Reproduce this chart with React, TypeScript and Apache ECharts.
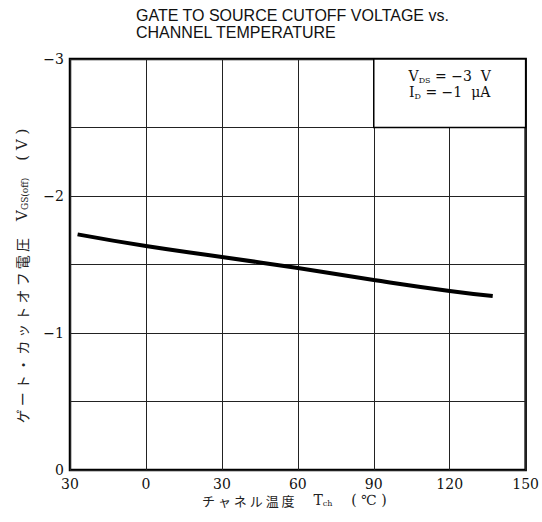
import React, { useEffect, useRef } from "react";
import * as echarts from "echarts";

const temperatures = [-27, 0, 30, 60, 90, 120, 137];
const cutoffVoltage = [-1.72, -1.635, -1.555, -1.474, -1.387, -1.307, -1.27];
const xTickLabels: Record<string, string> = { "-30": "30", "0": "0", "30": "30", "60": "60", "90": "90", "120": "120", "150": "150" };
const titleLines = ["GATE TO SOURCE CUTOFF VOLTAGE vs.", "CHANNEL TEMPERATURE"];
const conditionBox = { x0: 90, x1: 150, y0: -3, y1: -2.5 };

export default function App() {
  const ref = useRef<HTMLDivElement>(null);
  useEffect(() => {
    if (!ref.current) return;
    const chart = echarts.init(ref.current, null, { renderer: "svg" });
    const serif = "'DejaVu Serif', 'Liberation Serif', serif";
    const jp = "'Noto Sans CJK JP', sans-serif";
    chart.setOption({
      animation: false,
      backgroundColor: "#fff",
      title: {
        text: titleLines.join("\n"),
        left: 131,
        top: 2,
        textStyle: { fontFamily: "'Liberation Sans', Arial, sans-serif", fontSize: 16, fontWeight: "normal", color: "#111", lineHeight: 17 },
      },
      grid: { left: 70, right: 15, top: 59, bottom: 52, show: true, borderColor: "#000", borderWidth: 2.5, backgroundColor: "transparent" },
      xAxis: {
        type: "value",
        min: -30,
        max: 150,
        interval: 30,
        axisLine: { show: false },
        axisTick: { show: false },
        splitLine: { show: true, lineStyle: { color: "#222", width: 1 } },
        axisLabel: {
          margin: 7,
          fontFamily: serif,
          fontSize: 14,
          color: "#111",
          formatter: (v: number) => xTickLabels[String(v)] ?? String(v),
        },
      },
      yAxis: {
        type: "value",
        min: -3,
        max: 0,
        interval: 0.5,
        inverse: true,
        axisLine: { show: false },
        axisTick: { show: false },
        splitLine: { show: true, lineStyle: { color: "#222", width: 1 } },
        axisLabel: {
          margin: 6,
          fontFamily: serif,
          fontSize: 14,
          color: "#111",
          formatter: (v: number) => (Math.abs(v - Math.round(v)) > 1e-6 ? "" : v === 0 ? "0" : "−" + Math.abs(v)),
        },
      },
      graphic: [
        {
          type: "text",
          x: 22,
          y: 276,
          rotation: Math.PI / 2,
          style: {
            text: "ゲ ー ト ・ カ ッ ト オ フ 電 圧　 {v|V}{s|GS(off)}　 {v|( V )}",
            font: "14px " + jp,
            fill: "#222",
            align: "center",
            verticalAlign: "middle",
            rich: {
              v: { fontSize: 15, fontFamily: serif, fill: "#222" },
              s: { fontSize: 9, fontFamily: serif, fill: "#222", verticalAlign: "bottom", padding: [6, 0, 0, 0] },
            },
          },
        },
        {
          type: "text",
          x: 202,
          y: 500,
          style: {
            text: "チ ャ ネ ル 温 度　  {v|T}{s|ch}　  {v|( ℃ )}",
            font: "13px " + jp,
            fill: "#222",
            verticalAlign: "middle",
            rich: {
              v: { fontSize: 14, fontFamily: serif, fill: "#222" },
              s: { fontSize: 8, fontFamily: serif, fill: "#222", padding: [6, 0, 0, 0] },
            },
          },
        },
      ],
      series: [
        {
          type: "line",
          data: temperatures.map((t, i) => [t, cutoffVoltage[i]]),
          showSymbol: false,
          smooth: true,
          lineStyle: { color: "#000", width: 4 },
          z: 5,
          markArea: {
            silent: true,
            itemStyle: { color: "#fff", borderColor: "#000", borderWidth: 1.5, opacity: 1 },
            label: {
              show: true,
              position: "insideTop",
              distance: 10,
              fontFamily: serif,
              fontSize: 14,
              color: "#111",
              lineHeight: 16,
              formatter: "V{s|DS} = −3  V\nI{s|D} = −1  μA",
              rich: { s: { fontSize: 8, fontFamily: serif, color: "#111", verticalAlign: "bottom", padding: [5, 0, 0, 0] } },
            },
            data: [[{ xAxis: conditionBox.x0, yAxis: conditionBox.y0 }, { xAxis: conditionBox.x1, yAxis: conditionBox.y1 }]],
          },
        },
      ],
    });
    return () => chart.dispose();
  }, []);
  return <div ref={ref} style={{ width: 542, height: 522, position: "absolute", left: 0, top: 0 }} />;
}
